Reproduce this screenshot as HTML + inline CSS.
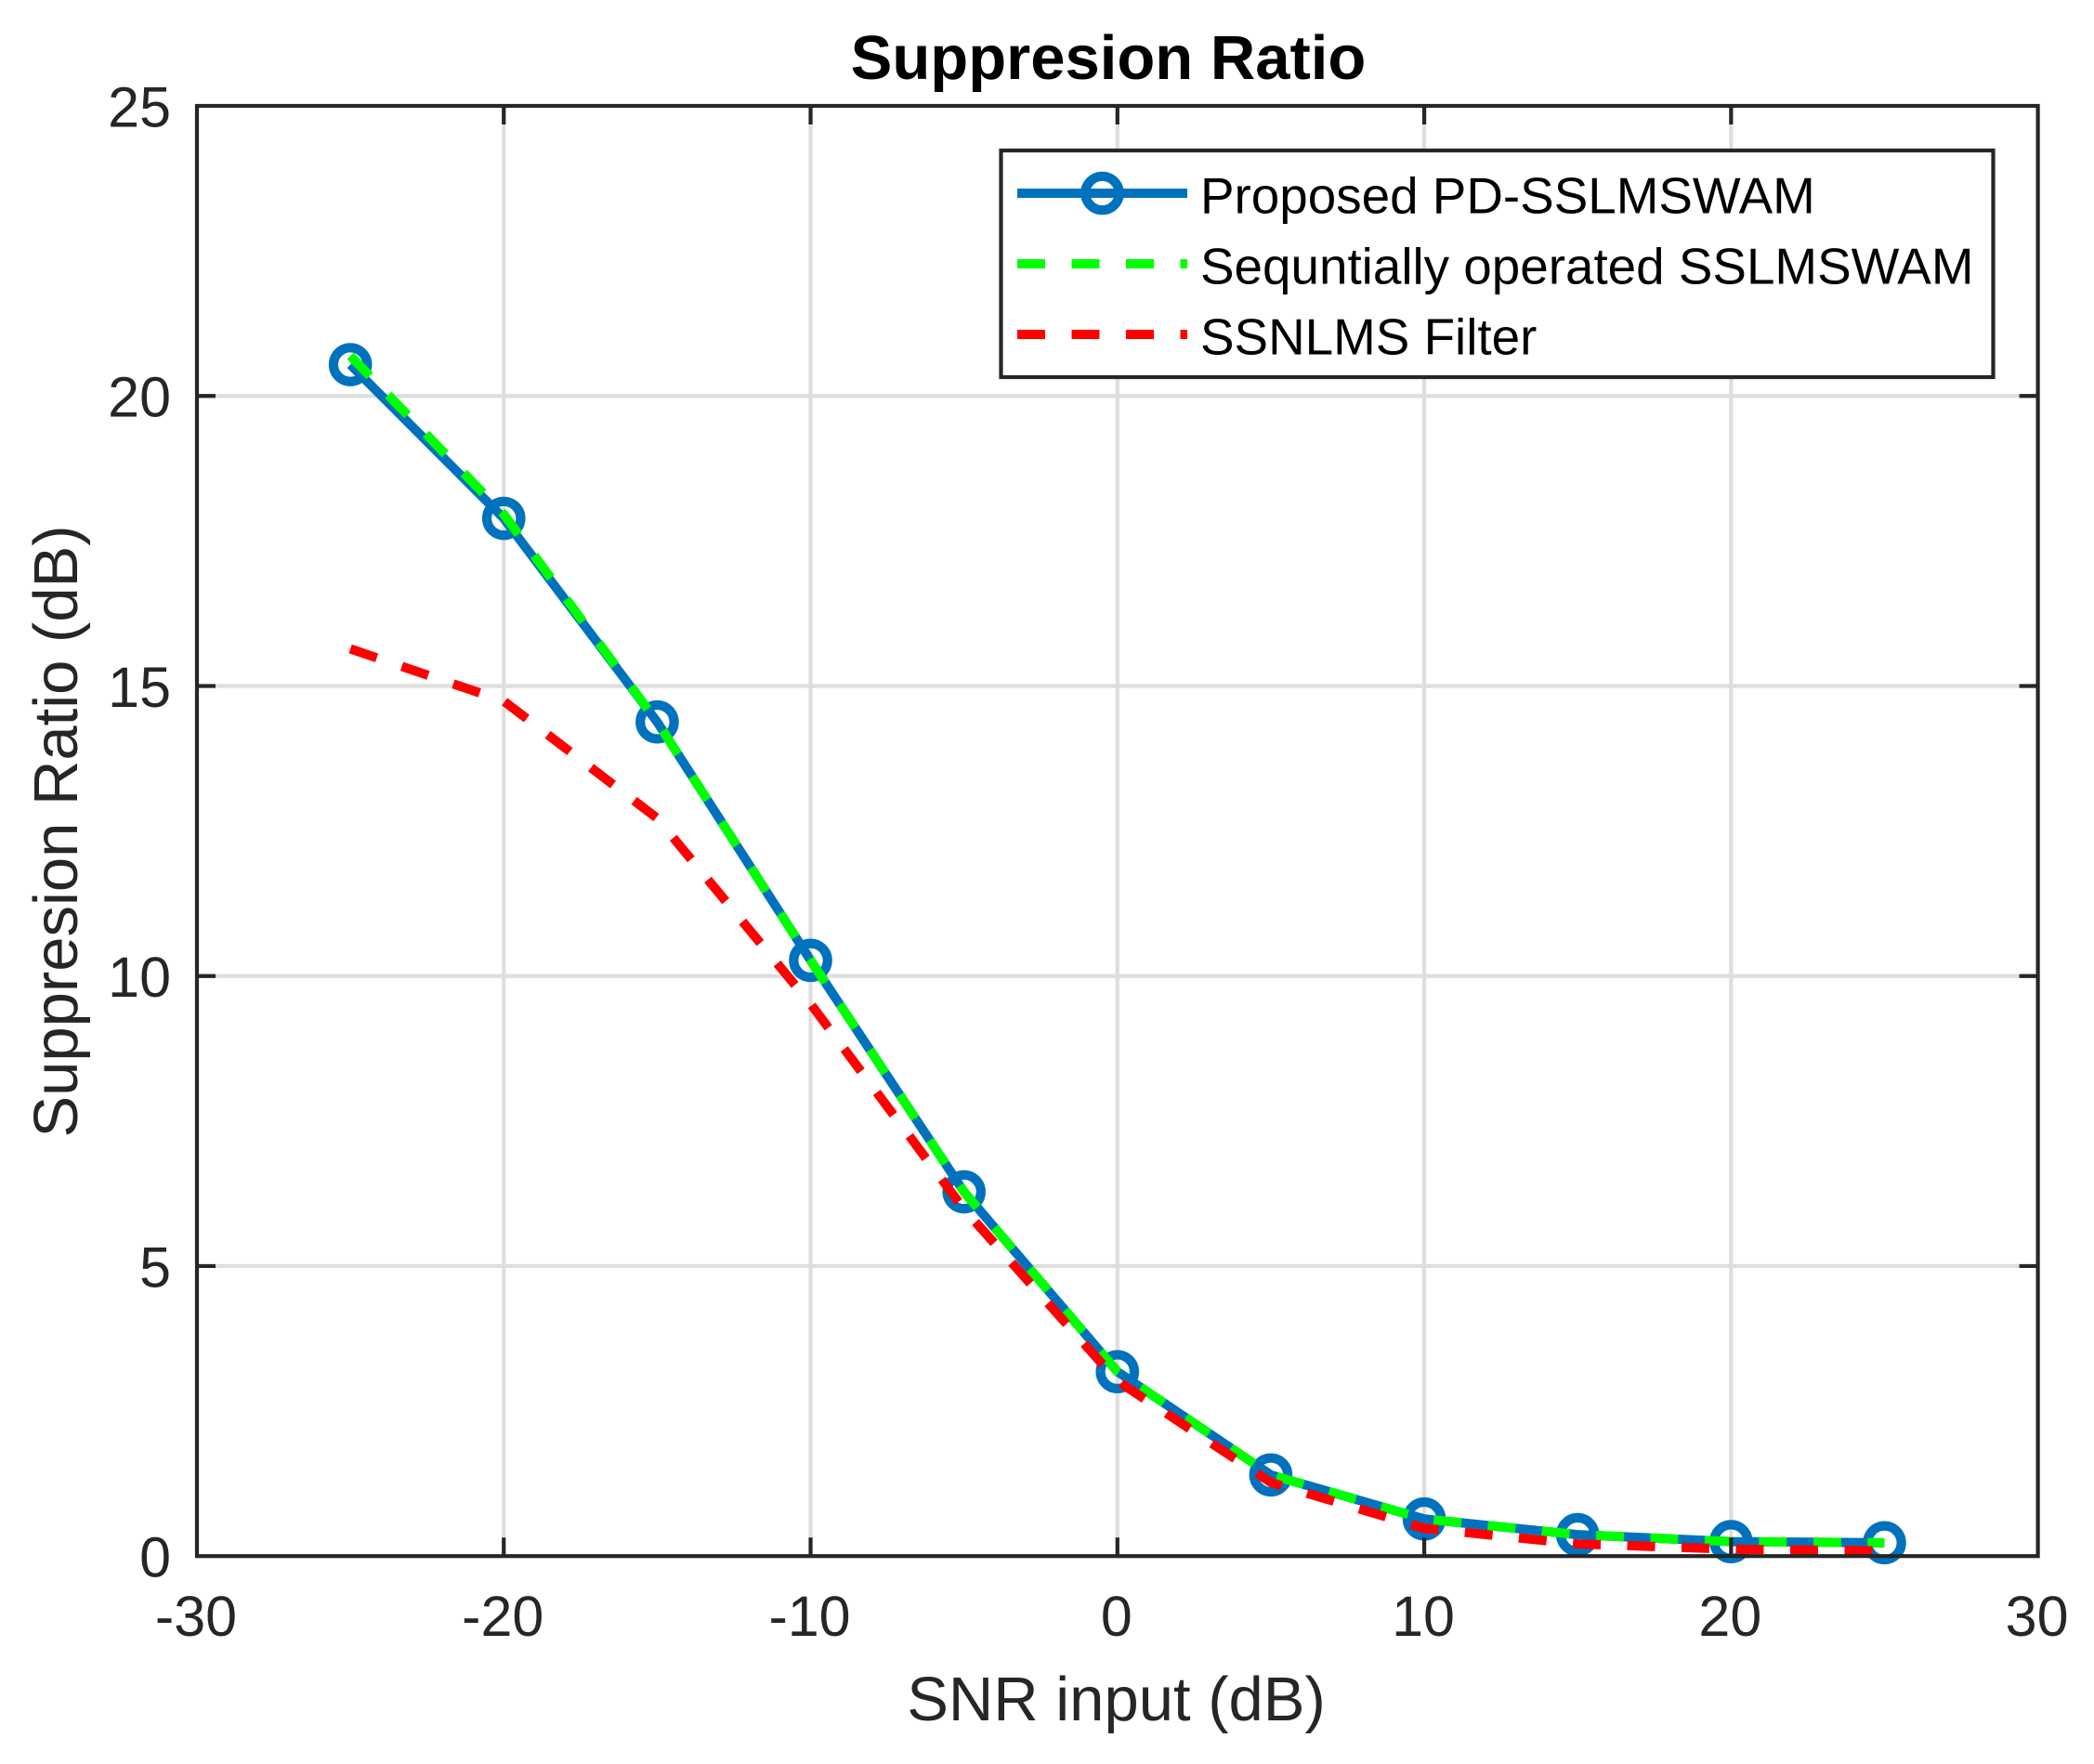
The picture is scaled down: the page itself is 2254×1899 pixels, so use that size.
<!DOCTYPE html>
<html lang="en">
<head>
<meta charset="utf-8">
<title>Suppresion Ratio</title>
<style>
html,body{margin:0;padding:0;background:#fff;width:2254px;height:1899px;overflow:hidden}
svg{display:block}
text{font-family:"Liberation Sans",Arial,sans-serif}
</style>
</head>
<body>
<svg id="chart" xmlns="http://www.w3.org/2000/svg" width="2254" height="1899" viewBox="0 0 2254 1899">
  <rect x="0" y="0" width="2254" height="1899" fill="#ffffff"/>
  <g id="grid"></g>
  <g id="series"></g>
  <g id="axes"></g>
  <text x="1193" y="85" font-size="67" font-weight="700" text-anchor="middle" fill="#000">Suppresion Ratio</text>
  <text x="1201.5" y="1852" font-size="67" text-anchor="middle" fill="#262626">SNR input (dB)</text>
  <text transform="translate(83 895) rotate(-90)" font-size="67" text-anchor="middle" fill="#262626">Suppresion Ratio (dB)</text>
  <g id="legend">
    <rect x="1077.5" y="162" width="1068" height="244" fill="#fff" stroke="#262626" stroke-width="4.2"/>
    <line x1="1095" x2="1278" y1="208" y2="208" stroke="#0072BD" stroke-width="10"/>
    <circle cx="1186.5" cy="208" r="18.2" fill="none" stroke="#0072BD" stroke-width="10.2"/>
    <line x1="1095" x2="1278" y1="284" y2="284" stroke="#00FF00" stroke-width="10" stroke-dasharray="30 28.5"/>
    <line x1="1095" x2="1278" y1="360" y2="360" stroke="#FF0000" stroke-width="10" stroke-dasharray="30 28.5"/>
    <text x="1292" y="229.5" font-size="54.8" fill="#000">Proposed PD-SSLMSWAM</text>
    <text x="1292" y="305.5" font-size="54.8" fill="#000">Sequntially operated SSLMSWAM</text>
    <text x="1292" y="381.5" font-size="54.8" fill="#000">SSNLMS Filter</text>
  </g>
</svg>
<script>
const snrInput = [-25, -20, -15, -10, -5, 0, 5, 10, 15, 20, 25];
const proposedValues = [20.54, 17.89, 14.38, 10.27, 6.28, 3.18, 1.40, 0.64, 0.37, 0.25, 0.23];
const sequentialValues = [20.69, 17.96, 14.38, 10.27, 6.28, 3.18, 1.40, 0.64, 0.37, 0.25, 0.23];
const ssnlmsValues = [15.64, 14.74, 12.72, 9.52, 5.98, 3.02, 1.27, 0.48, 0.21, 0.12, 0.09];
const xTickValues = [-30, -20, -10, 0, 10, 20, 30];
const yTickValues = [0, 5, 10, 15, 20, 25];

const NS = 'http://www.w3.org/2000/svg';
const plot = { left: 212, right: 2193.6, top: 114, bottom: 1675.2 };
const xDomain = [-30, 30];
const yDomain = [0, 25];
const xScale = v => plot.left + (v - xDomain[0]) / (xDomain[1] - xDomain[0]) * (plot.right - plot.left);
const yScale = v => plot.bottom - (v - yDomain[0]) / (yDomain[1] - yDomain[0]) * (plot.bottom - plot.top);

function make(parent, tag, attrs, text) {
  const el = document.createElementNS(NS, tag);
  for (const k in attrs) el.setAttribute(k, attrs[k]);
  if (text !== undefined) el.textContent = text;
  parent.appendChild(el);
  return el;
}

const gridLayer = document.getElementById('grid');
const seriesLayer = document.getElementById('series');
const axesLayer = document.getElementById('axes');
const AXIS = '#262626';
const GRID = '#dedede';
const TICK = 20;
const AXW = 4.2;

xTickValues.forEach(v => {
  const x = xScale(v);
  if (v !== xDomain[0] && v !== xDomain[1]) {
    const g = make(gridLayer, 'line', { x1: x, x2: x, y1: plot.top, y2: plot.bottom, stroke: GRID, 'stroke-width': AXW });
    
    
    const t1 = make(axesLayer, 'line', { x1: x, x2: x, y1: plot.bottom, y2: plot.bottom - TICK, stroke: AXIS, 'stroke-width': AXW });
    
    
    const t2 = make(axesLayer, 'line', { x1: x, x2: x, y1: plot.top, y2: plot.top + TICK, stroke: AXIS, 'stroke-width': AXW });
    
    
  }
  const l = make(axesLayer, 'text', { x: x - 1, y: 1761, 'font-size': 61, 'text-anchor': 'middle', fill: AXIS }, String(v));
  
  
});

yTickValues.forEach(v => {
  const y = yScale(v);
  if (v !== yDomain[0] && v !== yDomain[1]) {
    const g = make(gridLayer, 'line', { x1: plot.left, x2: plot.right, y1: y, y2: y, stroke: GRID, 'stroke-width': AXW });
    
    
    const t1 = make(axesLayer, 'line', { x1: plot.left, x2: plot.left + TICK, y1: y, y2: y, stroke: AXIS, 'stroke-width': AXW });
    
    
    const t2 = make(axesLayer, 'line', { x1: plot.right, x2: plot.right - TICK, y1: y, y2: y, stroke: AXIS, 'stroke-width': AXW });
    
    
  }
  const l = make(axesLayer, 'text', { x: 184, y: y + 22.5, 'font-size': 61, 'text-anchor': 'end', fill: AXIS }, String(v));
  
  
});

const frame = make(axesLayer, 'rect', { x: plot.left, y: plot.top, width: plot.right - plot.left, height: plot.bottom - plot.top, fill: 'none', stroke: AXIS, 'stroke-width': AXW });



function pointsOf(values) {
  return values.map((v, i) => xScale(snrInput[i]) + ',' + yScale(v)).join(' ');
}

const proposedLine = make(seriesLayer, 'polyline', { points: pointsOf(proposedValues), fill: 'none', stroke: '#0072BD', 'stroke-width': 10, 'stroke-linejoin': 'round' });



proposedValues.forEach((v, i) => {
  const c = make(seriesLayer, 'circle', { cx: xScale(snrInput[i]), cy: yScale(v), r: 18.2, fill: 'none', stroke: '#0072BD', 'stroke-width': 10.2 });
  
  
});

const sequentialLine = make(seriesLayer, 'polyline', { points: pointsOf(sequentialValues), fill: 'none', stroke: '#00FF00', 'stroke-width': 10, 'stroke-dasharray': '30 28.5', 'stroke-linejoin': 'round' });



const ssnlmsLine = make(seriesLayer, 'polyline', { points: pointsOf(ssnlmsValues), fill: 'none', stroke: '#FF0000', 'stroke-width': 10, 'stroke-dasharray': '30 28.5', 'stroke-linejoin': 'round' });


</script>
</body>
</html>
